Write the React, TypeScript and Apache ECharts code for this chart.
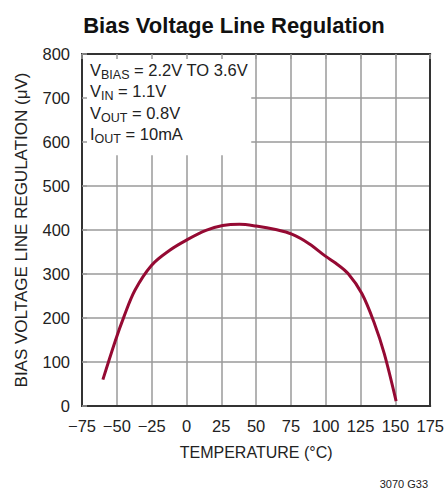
import React, { useEffect, useRef } from "react";
import * as echarts from "echarts";

const temperature = [-60, -51, -45, -37, -25, -12, 0, 14, 26, 38, 50, 64, 76, 88, 100, 107, 116, 126, 135, 142, 150.5];
const regulation = [60, 149, 202, 263, 320, 354, 377, 399, 410, 413, 409, 401, 390, 369, 340, 325, 301, 255, 187, 119, 11];
const xTicks = [-75, -50, -25, 0, 25, 50, 75, 100, 125, 150, 175];
const yTicks = [0, 100, 200, 300, 400, 500, 600, 700, 800];
const conditionBox = [[-75, 570], [46.5, 800]];
const conditions = [
  ["V", "BIAS", " = 2.2V TO 3.6V"],
  ["V", "IN", " = 1.1V"],
  ["V", "OUT", " = 0.8V"],
  ["I", "OUT", " = 10mA"],
];

const FONT = "'Liberation Sans', Arial, sans-serif";
const TXT = "#222";

export default function App() {
  const ref = useRef<HTMLDivElement>(null);
  useEffect(() => {
    const chart = echarts.init(ref.current!, null, { renderer: "svg" });
    const xMin = xTicks[0], xMax = xTicks[xTicks.length - 1];
    const yMin = yTicks[0], yMax = yTicks[yTicks.length - 1];
    const fmt = (v: number) => String(v).replace("-", "\u2212");
    const border = { show: true, onZero: false, lineStyle: { color: "#333", width: 2 } };
    const innerTick = { show: true, inside: true, length: 5, lineStyle: { color: "#9a9a9a", width: 1.5 } };
    chart.setOption({
      animation: false,
      backgroundColor: "#fff",
      textStyle: { fontFamily: FONT },
      title: [
        {
          text: "Bias Voltage Line Regulation",
          left: 229, top: 9, textAlign: "center",
          textStyle: { fontFamily: FONT, fontWeight: "bold", fontSize: 22, color: "#111" },
        },
        {
          text: "3070 G33",
          right: 14, top: 473,
          textStyle: { fontFamily: FONT, fontWeight: "normal", fontSize: 11, color: TXT },
        },
      ],
      grid: { left: 82, right: 14, top: 54, bottom: 83, show: false },
      xAxis: [
        {
          type: "value", min: xMin, max: xMax, interval: 25, position: "bottom",
          name: "TEMPERATURE (\u00B0C)", nameLocation: "middle", nameGap: 38,
          nameTextStyle: { fontFamily: FONT, fontSize: 16, color: TXT },
          axisLine: border,
          axisTick: { show: false },
          axisLabel: { formatter: fmt, fontFamily: FONT, fontSize: 16.5, color: TXT, margin: 11 },
          splitLine: { show: true, lineStyle: { color: "#9a9a9a", width: 1.5 } },
          z: 0,
        },
        {
          type: "value", min: xMin, max: xMax, interval: 25, position: "top",
          axisLine: border, axisTick: innerTick,
          axisLabel: { show: false }, splitLine: { show: false },
          z: 10,
        },
      ],
      yAxis: [
        {
          type: "value", min: yMin, max: yMax, interval: 100, position: "left",
          name: "BIAS VOLTAGE LINE REGULATION (\u03BCV)", nameLocation: "middle", nameGap: 52,
          nameTextStyle: { fontFamily: FONT, fontSize: 17, color: TXT },
          axisLine: border,
          axisTick: { show: false },
          axisLabel: { fontFamily: FONT, fontSize: 16.5, color: TXT, margin: 12 },
          splitLine: { show: true, lineStyle: { color: "#9a9a9a", width: 1.5 } },
          z: 0,
        },
        {
          type: "value", min: yMin, max: yMax, interval: 100, position: "left",
          axisLine: border, axisTick: innerTick,
          axisLabel: { show: false }, splitLine: { show: false },
          z: 10,
        },
        {
          type: "value", min: yMin, max: yMax, interval: 100, position: "right",
          axisLine: border, axisTick: { show: false },
          axisLabel: { show: false }, splitLine: { show: false },
          z: 10,
        },
      ],
      series: [
        {
          type: "line",
          data: temperature.map((t, i) => [t, regulation[i]]),
          smooth: 0.35,
          showSymbol: false,
          lineStyle: { color: "#950a33", width: 3 },
          z: 3,
          markArea: {
            silent: true,
            itemStyle: { color: "#ffffff", opacity: 1 },
            data: [[{ coord: conditionBox[0] }, { coord: conditionBox[1] }]],
          },
        },
      ],
      graphic: conditions.map((c, i) => ({
        type: "text",
        left: 90, top: 61 + i * 21.5, z: 20,
        style: {
          text: `{m|${c[0]}}{s|${c[1]}}{m|${c[2]}}`,
          rich: {
            m: { fontFamily: FONT, fontSize: 16.5, fill: TXT, lineHeight: 20, verticalAlign: "bottom" },
            s: { fontFamily: FONT, fontSize: 12.5, fill: TXT, lineHeight: 20, verticalAlign: "bottom", padding: [0, 0, -3, 0] },
          },
        },
      })),
    });
    return () => chart.dispose();
  }, []);
  return <div ref={ref} style={{ position: "absolute", left: 0, top: 0, width: 447, height: 489 }} />;
}
